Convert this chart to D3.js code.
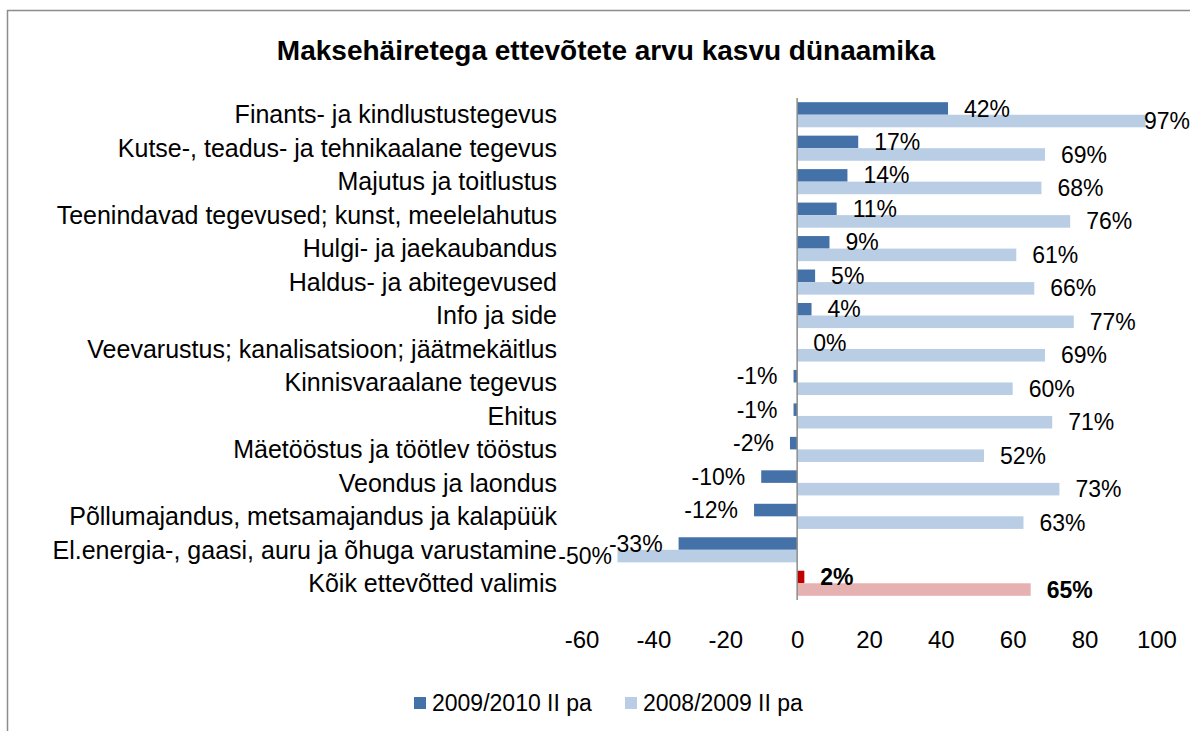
<!DOCTYPE html>
<html><head><meta charset="utf-8">
<script src="https://cdn.jsdelivr.net/npm/d3@7"></script>
<style>body{margin:0;background:#fff}svg{display:block}text{font-family:"Liberation Sans",Arial,sans-serif}</style>
</head><body><svg id="c" width="1190" height="731"></svg>
<script>
const categories = ["Finants- ja kindlustustegevus","Kutse-, teadus- ja tehnikaalane tegevus","Majutus ja toitlustus","Teenindavad tegevused; kunst, meelelahutus","Hulgi- ja jaekaubandus","Haldus- ja abitegevused","Info ja side","Veevarustus; kanalisatsioon; jäätmekäitlus","Kinnisvaraalane tegevus","Ehitus","Mäetööstus ja töötlev tööstus","Veondus ja laondus","Põllumajandus, metsamajandus ja kalapüük","El.energia-, gaasi, auru ja õhuga varustamine","Kõik ettevõtted valimis"];
const series2010 = [42,17,14,11,9,5,4,0,-1,-1,-2,-10,-12,-33,2];
const series2009 = [97,69,68,76,61,66,77,69,60,71,52,73,63,-50,65];
const seriesNames = ["2009/2010 II pa","2008/2009 II pa"];
const tickValues = [-60,-40,-20,0,20,40,60,80,100];
const title = "Maksehäiretega ettevõtete arvu kasvu dünaamika";

const svg = d3.select("#c");
svg.append("rect").attr("x",7.5).attr("y",10.5).attr("width",1300).attr("height",900)
  .attr("fill","none").attr("stroke","#8c8c8c").attr("stroke-width",1.5);
svg.append("text").attr("x",606).attr("y",60).attr("text-anchor","middle")
  .attr("font-size",28).attr("font-weight","bold").text(title);

const x = d3.scaleLinear().domain([-60,100]).range([581.6,1156.4]);
const y = d3.scaleBand().domain(categories).range([98,600]).paddingInner(0.25).paddingOuter(0.125);
const bw = y.bandwidth()/2;
const last = categories.length-1;
const col1 = (i)=> i===last ? "#c00000" : "#4472a8";
const col2 = (i)=> i===last ? "#e5b2b1" : "#b9cde5";

const g = svg.append("g");
function bars(vals, off, colf){
  g.selectAll(null).data(vals).enter().append("rect")
    .attr("x",d=>x(Math.min(0,d))).attr("width",d=>Math.abs(x(d)-x(0)))
    .attr("y",(d,i)=>y(categories[i])+off).attr("height",bw)
    .attr("fill",(d,i)=>colf(i));
}
bars(series2010,0,col1);
bars(series2009,bw,col2);

function labels(vals, off){
  g.selectAll(null).data(vals).enter().append("text")
    .attr("x",d=> d<0 ? Math.max(x(d)-16, 612) : Math.min(x(d)+16, 1144))
    .attr("y",(d,i)=>y(categories[i])+off+bw/2)
    .attr("dy","0.35em")
    .attr("text-anchor",d=>d<0?"end":"start")
    .attr("font-size",23)
    .attr("font-weight",(d,i)=>i===last?"bold":"normal")
    .text(d=>d+"%");
}
labels(series2010,0);
labels(series2009,bw);

// y axis line
svg.append("line").attr("x1",x(0)).attr("x2",x(0)).attr("y1",98).attr("y2",600)
  .attr("stroke","#8c8c8c").attr("stroke-width",1.5);

// category labels
svg.append("g").selectAll("text").data(categories).enter().append("text")
  .attr("x",557).attr("y",d=>y(d)+y.bandwidth()/2).attr("dy","0.35em")
  .attr("text-anchor","end").attr("font-size",25).text(d=>d);

// x axis tick labels
const xa = d3.axisBottom(x).tickValues(tickValues).tickSize(0).tickPadding(0).tickFormat(d=>String(d));
const ax = svg.append("g").attr("transform","translate(0,631)").call(xa);
ax.select(".domain").remove();
ax.selectAll("text").attr("font-size",24).attr("fill","#000").style("font-family","Liberation Sans, Arial, sans-serif");

// legend
const lx = [414,625];
const lg = svg.append("g");
seriesNames.forEach((n,i)=>{
  lg.append("rect").attr("x",lx[i]).attr("y",697).attr("width",12).attr("height",12)
    .attr("fill",i===0?"#4472a8":"#b9cde5");
  lg.append("text").attr("x",lx[i]+18).attr("y",703).attr("dy","0.35em").attr("font-size",23).text(n);
});
</script></body></html>
